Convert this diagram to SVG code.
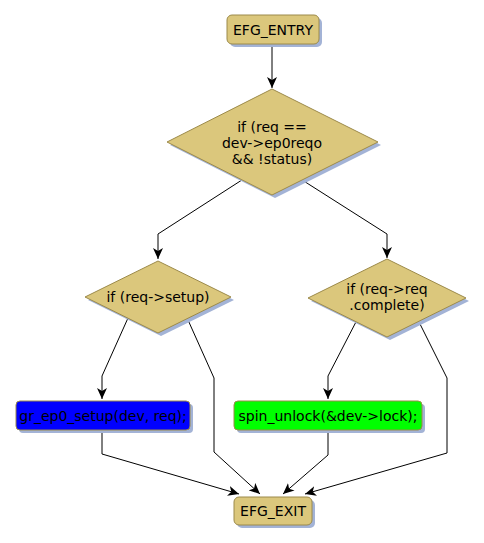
<svg xmlns="http://www.w3.org/2000/svg" width="484" height="543" viewBox="0 0 484 543">
<defs>
<style>
.n{fill:#dbc77c;stroke:#9c8a4a;stroke-width:1}
.sh{fill:#a3b3d6}
.t{font-family:"DejaVu Sans",sans-serif;font-size:14px;fill:#000;text-anchor:middle}
.e{fill:none;stroke:#000;stroke-width:1;marker-end:url(#a)}
</style>
<marker id="a" markerWidth="12" markerHeight="10" refX="11" refY="5" orient="auto" markerUnits="userSpaceOnUse">
<path d="M0,0 L11,5 L0,10 L3,5 z" fill="#000"/>
</marker>
</defs>
<rect width="484" height="543" fill="#fff"/>
<g id="connectors">
<path class="e" d="M272,45 L272,88"/>
<path class="e" d="M245,178 L158,234 L158,259"/>
<path class="e" d="M299,178 L387,234 L387,258"/>
<path class="e" d="M128,318 L102,376 L102,399"/>
<path class="e" d="M188,320 L214,378 L214,452 L260,494"/>
<path class="e" d="M358,318 L328,376 L328,399"/>
<path class="e" d="M417,318 L447,378 L447,453 L305,494"/>
<path class="e" d="M102,430 L102,454 L239,494"/>
<path class="e" d="M328,430 L328,455 L283,494"/>
</g>
<g id="entry">
<rect class="sh" x="230" y="18" width="92" height="29" rx="5"/>
<rect class="n" x="227" y="15" width="92" height="29" rx="5"/>
<text class="t" x="273" y="35">EFG_ENTRY</text>
</g>
<g id="cond1">
<polygon class="sh" points="275,92 381,145 275,198 170,145"/>
<polygon class="n" points="272,89 378,142 272,195 167,142"/>
<text class="t" x="272" y="132">if (req ==</text>
<text class="t" x="272" y="148">dev-&gt;ep0reqo</text>
<text class="t" x="272" y="164">&amp;&amp; !status)</text>
</g>
<g id="cond2">
<polygon class="sh" points="161,264 234,300 161,336 88,300"/>
<polygon class="n" points="158,261 231,297 158,333 85,297"/>
<text class="t" x="158" y="302">if (req-&gt;setup)</text>
</g>
<g id="cond3">
<polygon class="sh" points="390,262 469,301 390,340 311,301"/>
<polygon class="n" points="387,259 466,298 387,337 308,298"/>
<text class="t" x="387" y="294">if (req-&gt;req</text>
<text class="t" x="387" y="310">.complete)</text>
</g>
<g id="setup">
<rect class="sh" x="19" y="404" width="174" height="29" rx="4"/>
<rect x="16" y="401" width="174" height="29" rx="4" fill="#0000ff" stroke="#9c8a4a"/>
<text class="t" x="103" y="421">gr_ep0_setup(dev, req);</text>
</g>
<g id="unlock">
<rect class="sh" x="237" y="404" width="188" height="29" rx="4"/>
<rect x="234" y="401" width="188" height="29" rx="4" fill="#00ff00" stroke="#9c8a4a"/>
<text class="t" x="328" y="421">spin_unlock(&amp;dev-&gt;lock);</text>
</g>
<g id="exit">
<rect class="sh" x="237" y="500" width="78" height="28" rx="5"/>
<rect class="n" x="234" y="497" width="78" height="28" rx="5"/>
<text class="t" x="273" y="516">EFG_EXIT</text>
</g>
</svg>
